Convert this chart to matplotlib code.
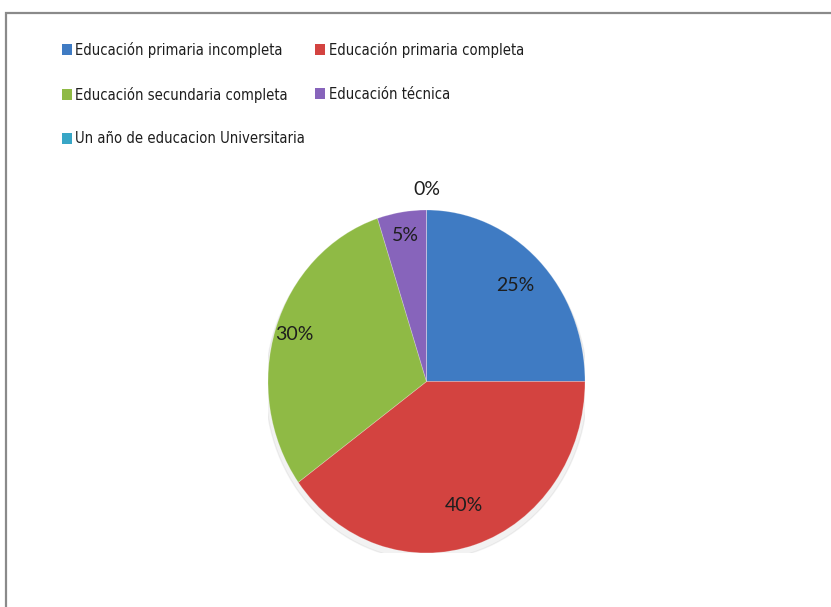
import matplotlib
matplotlib.use("Agg")
import matplotlib.pyplot as plt
from matplotlib.patches import Rectangle, Patch, Ellipse
from matplotlib.font_manager import FontProperties
import numpy as np

plt.rcParams['font.family'] = ['Lato', 'DejaVu Sans']

# data
categories = [
    "Educación primaria incompleta",
    "Educación primaria completa",
    "Educación secundaria completa",
    "Educación técnica",
    "Un año de educacion Universitaria",
]
values = [25, 40, 30, 5, 0]
pct_labels = ["25%", "40%", "30%", "5%", "0%"]
colors = ["#3f7bc3", "#d34340", "#8fba45", "#8764bb", "#38a6c6"]

W, H = 831, 607
fig = plt.figure(figsize=(W / 100, H / 100), dpi=100)

# chart border (runs off the right and bottom edges)
fig.patches.append(Rectangle((6 / W, -0.05), 1.1, (H - 13) / H + 0.05,
                             transform=fig.transFigure, fill=False,
                             edgecolor="#8a8a8a", linewidth=1.6))

# pie area in pixels: left 268, right 585, top 210, bottom 553
ax = fig.add_axes([268 / W, (H - 553) / H, 317 / W, 343 / H])

# soft shadow under the pie
ax.add_patch(Ellipse((0.0, -0.03), 2.03, 2.02, color="#000000", alpha=0.05, zorder=0))

wedges, _ = ax.pie(values, colors=colors, startangle=90, counterclock=False,
                   radius=1, frame=True,
                   wedgeprops=dict(linewidth=0.6, edgecolor="#ffffff40"))
ax.set_xlim(-1, 1)
ax.set_ylim(-1, 1)
ax.set_aspect('auto')
ax.axis('off')

dists = [0.79, 0.76, 0.88, 0.86, 1.12]
for w, lab, d in zip(wedges, pct_labels, dists):
    mid = np.deg2rad((w.theta1 + w.theta2) / 2)
    ax.text(d * np.cos(mid), d * np.sin(mid), lab, ha="center", va="center",
            fontsize=14, color="#1e1e1e", clip_on=False)

# legend, reordered so rows read A B / C D / E
handles = [Patch(facecolor=c, edgecolor="none") for c in colors]
order = [0, 2, 4, 1, 3]
leg_font = FontProperties(family="DejaVu Sans", stretch="condensed", size=10.6)
fig.legend([handles[i] for i in order], [categories[i] for i in order],
           ncol=2, loc="upper left", bbox_to_anchor=(62 / W, 1 - 42 / H),
           frameon=False, prop=leg_font, handlelength=0.65, handleheight=0.75,
           handletextpad=0.25, labelspacing=1.95, columnspacing=0.7,
           borderpad=0, borderaxespad=0, labelcolor="#1e1e1e")

fig.savefig("out.png", dpi=100)
